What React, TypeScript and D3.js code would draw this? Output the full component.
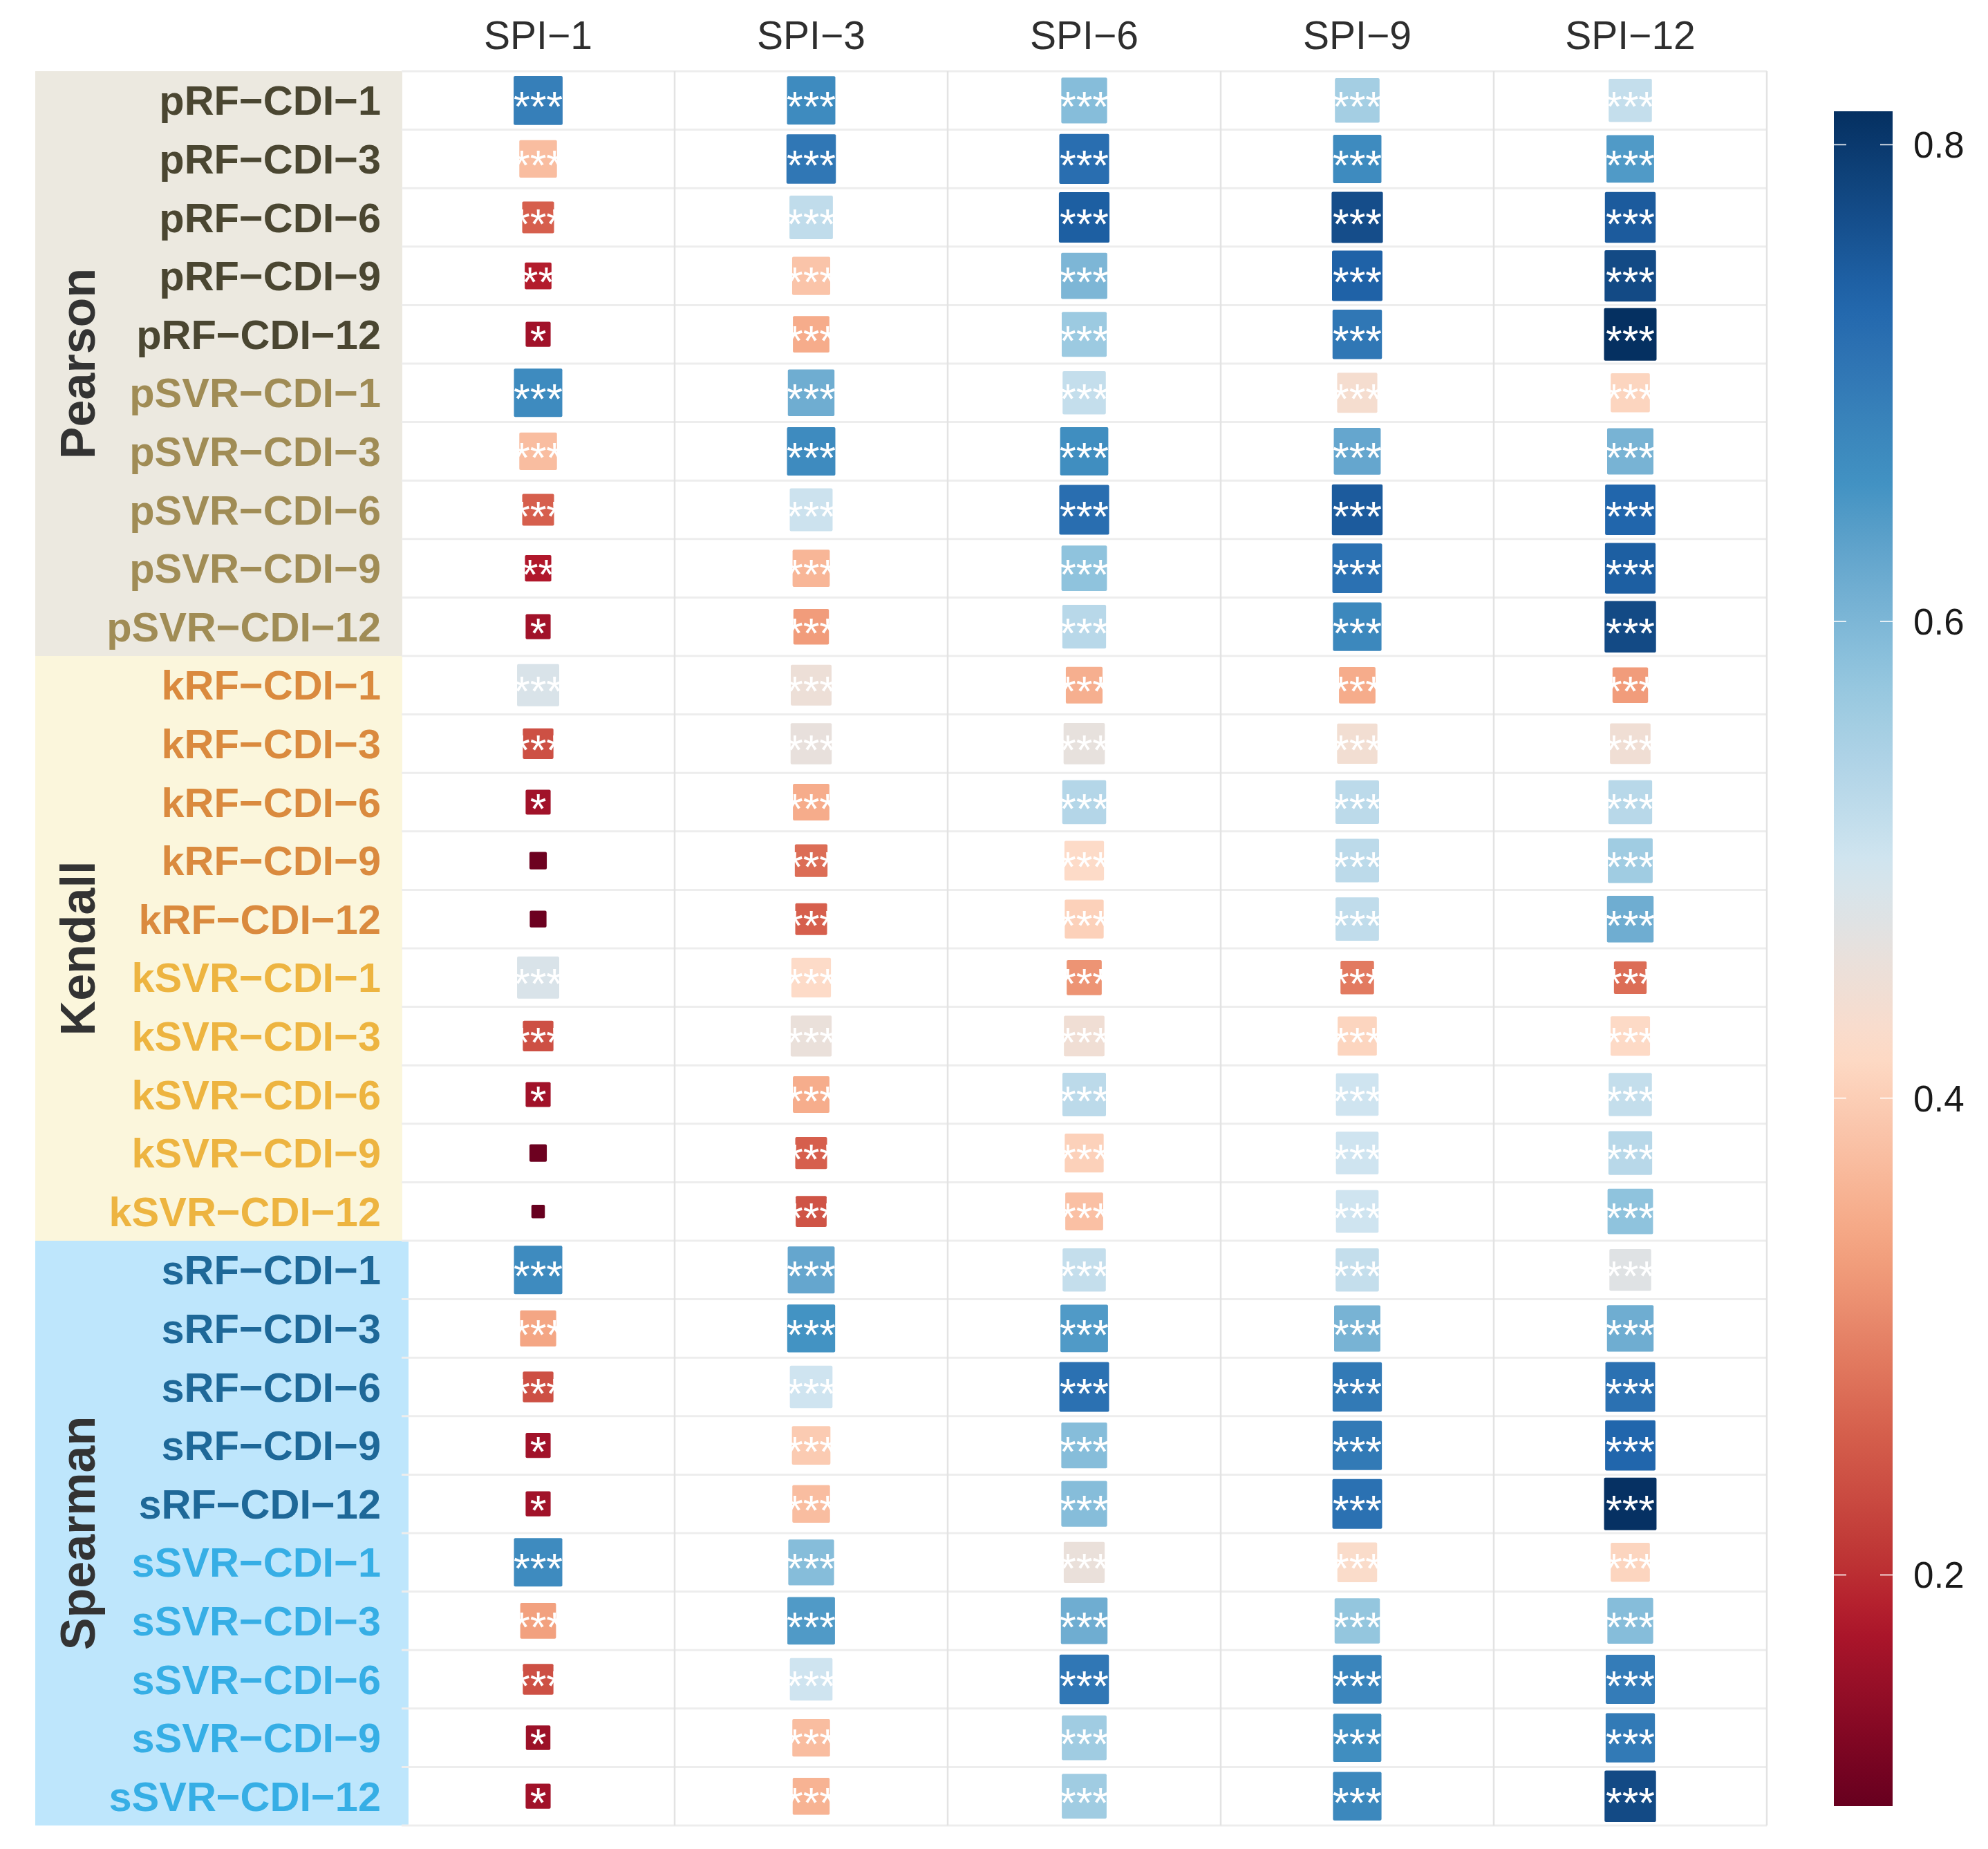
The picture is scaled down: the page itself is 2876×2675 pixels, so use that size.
import * as d3 from 'd3';

const columns = ['SPI\u22121', 'SPI\u22123', 'SPI\u22126', 'SPI\u22129', 'SPI\u221212'];

const groups = ['Pearson', 'Kendall', 'Spearman'];

const rowNames = [
  'pRF\u2212CDI\u22121', 'pRF\u2212CDI\u22123', 'pRF\u2212CDI\u22126', 'pRF\u2212CDI\u22129', 'pRF\u2212CDI\u221212',
  'pSVR\u2212CDI\u22121', 'pSVR\u2212CDI\u22123', 'pSVR\u2212CDI\u22126', 'pSVR\u2212CDI\u22129', 'pSVR\u2212CDI\u221212',
  'kRF\u2212CDI\u22121', 'kRF\u2212CDI\u22123', 'kRF\u2212CDI\u22126', 'kRF\u2212CDI\u22129', 'kRF\u2212CDI\u221212',
  'kSVR\u2212CDI\u22121', 'kSVR\u2212CDI\u22123', 'kSVR\u2212CDI\u22126', 'kSVR\u2212CDI\u22129', 'kSVR\u2212CDI\u221212',
  'sRF\u2212CDI\u22121', 'sRF\u2212CDI\u22123', 'sRF\u2212CDI\u22126', 'sRF\u2212CDI\u22129', 'sRF\u2212CDI\u221212',
  'sSVR\u2212CDI\u22121', 'sSVR\u2212CDI\u22123', 'sSVR\u2212CDI\u22126', 'sSVR\u2212CDI\u22129', 'sSVR\u2212CDI\u221212'
];

// correlation per row (SPI-1, SPI-3, SPI-6, SPI-9, SPI-12)
const values = [
  [0.69, 0.67, 0.59, 0.555, 0.515],
  [0.375, 0.705, 0.72, 0.67, 0.645],
  [0.26, 0.52, 0.745, 0.77, 0.75],
  [0.185, 0.385, 0.6, 0.74, 0.775],
  [0.165, 0.35, 0.565, 0.705, 0.814],
  [0.67, 0.615, 0.515, 0.435, 0.41],
  [0.375, 0.67, 0.665, 0.625, 0.605],
  [0.26, 0.505, 0.72, 0.75, 0.735],
  [0.18, 0.365, 0.58, 0.715, 0.745],
  [0.165, 0.33, 0.53, 0.675, 0.775],
  [0.485, 0.45, 0.355, 0.35, 0.33],
  [0.24, 0.46, 0.462, 0.44, 0.445],
  [0.165, 0.35, 0.535, 0.525, 0.53],
  [0.11, 0.275, 0.42, 0.525, 0.56],
  [0.108, 0.26, 0.405, 0.52, 0.615],
  [0.485, 0.42, 0.32, 0.29, 0.275],
  [0.24, 0.455, 0.445, 0.41, 0.418],
  [0.165, 0.352, 0.525, 0.5, 0.515],
  [0.11, 0.26, 0.405, 0.5, 0.53],
  [0.103, 0.245, 0.38, 0.5, 0.58],
  [0.67, 0.625, 0.515, 0.515, 0.475],
  [0.342, 0.656, 0.645, 0.605, 0.615],
  [0.24, 0.5, 0.715, 0.7, 0.715],
  [0.165, 0.395, 0.59, 0.7, 0.735],
  [0.165, 0.375, 0.59, 0.715, 0.812],
  [0.67, 0.59, 0.455, 0.425, 0.41],
  [0.335, 0.645, 0.615, 0.575, 0.59],
  [0.24, 0.5, 0.705, 0.68, 0.695],
  [0.16, 0.375, 0.56, 0.665, 0.7],
  [0.165, 0.36, 0.56, 0.675, 0.775]
];

const signif = [
  ['***', '***', '***', '***', '***'],
  ['***', '***', '***', '***', '***'],
  ['***', '***', '***', '***', '***'],
  ['**', '***', '***', '***', '***'],
  ['*', '***', '***', '***', '***'],
  ['***', '***', '***', '***', '***'],
  ['***', '***', '***', '***', '***'],
  ['***', '***', '***', '***', '***'],
  ['**', '***', '***', '***', '***'],
  ['*', '***', '***', '***', '***'],
  ['***', '***', '***', '***', '***'],
  ['***', '***', '***', '***', '***'],
  ['*', '***', '***', '***', '***'],
  ['', '***', '***', '***', '***'],
  ['', '***', '***', '***', '***'],
  ['***', '***', '***', '***', '***'],
  ['***', '***', '***', '***', '***'],
  ['*', '***', '***', '***', '***'],
  ['', '***', '***', '***', '***'],
  ['', '***', '***', '***', '***'],
  ['***', '***', '***', '***', '***'],
  ['***', '***', '***', '***', '***'],
  ['***', '***', '***', '***', '***'],
  ['*', '***', '***', '***', '***'],
  ['*', '***', '***', '***', '***'],
  ['***', '***', '***', '***', '***'],
  ['***', '***', '***', '***', '***'],
  ['***', '***', '***', '***', '***'],
  ['*', '***', '***', '***', '***'],
  ['*', '***', '***', '***', '***']
];

const rdbu10 = ['#67001F', '#B2182B', '#D6604D', '#F4A582', '#FDDBC7', '#D1E5F0', '#92C5DE', '#4393C3', '#2166AC', '#053061'];
const bandFills = ['#ECE9E0', '#FBF6DC', '#BEE6FC'];
const labelFills = ['#4A4631', '#A08C55', '#DA8A3E', '#EDB440', '#1E6898', '#36AEE5'];

const W = 2876;
const H = 2675;
const FONT = '"Liberation Sans", Arial, Helvetica, sans-serif';

export default function App() {
  const left = 581;
  const right = 2556;
  const top = 103;
  const bottom = 2641;

  const x = d3.scaleBand().domain(columns).range([left, right]);
  const y = d3.scaleBand().domain(rowNames).range([top, bottom]);

  const flat = values.flat();
  const vmin = d3.min(flat) ?? 0;
  const vmax = d3.max(flat) ?? 1;

  const color = d3
    .scaleLinear<string>()
    .domain(rdbu10.map((_, i) => vmin + ((vmax - vmin) * i) / (rdbu10.length - 1)))
    .range(rdbu10)
    .interpolate(d3.interpolateLab);

  const size = d3.scaleSqrt().domain([0, vmax - vmin]).range([19.5, 76]);

  const cbTop = 161;
  const cbBottom = 2613;
  const cbLeft = 2653;
  const cbWidth = 85;
  const cb = d3.scaleLinear().domain([vmin, vmax]).range([cbBottom, cbTop]);
  const cbTicks = cb.ticks(4);
  const gradStops = d3.range(0, 1.0001, 0.02);

  const cells = [];
  rowNames.forEach((row, i) => {
    columns.forEach((col, j) => {
      const v = values[i][j];
      const s = size(v - vmin);
      const cx = (x(col) ?? 0) + x.bandwidth() / 2;
      const cy = (y(row) ?? 0) + y.bandwidth() / 2;
      cells.push({ key: `${i}-${j}`, v, s, cx, cy, label: signif[i][j] });
    });
  });

  return (
    <div style={{ position: 'absolute', left: 0, top: 0 }}>
      <svg width={W} height={H} style={{ display: 'block', background: '#fff' }}>
        <defs>
          <linearGradient id="cbgrad" x1="0" y1="1" x2="0" y2="0">
            {gradStops.map((t) => (
              <stop key={t} offset={t} stopColor={color(vmin + t * (vmax - vmin))} />
            ))}
          </linearGradient>
        </defs>

        {/* group bands */}
        {groups.map((g, gi) => {
          const y0 = y(rowNames[gi * 10]) ?? 0;
          const y1 = (y(rowNames[gi * 10 + 9]) ?? 0) + y.bandwidth();
          return (
            <g key={g}>
              <rect x={51} y={y0} width={(gi === 2 ? 591 : 582) - 51} height={y1 - y0} fill={bandFills[gi]} />
              <text
                transform={`translate(137, ${(y0 + y1) / 2}) rotate(-90)`}
                textAnchor="middle"
                fontFamily={FONT}
                fontWeight="bold"
                fontSize={70}
                fill="#333333"
              >
                {g}
              </text>
            </g>
          );
        })}

        {/* row labels */}
        {rowNames.map((row, i) => (
          <text
            key={row}
            x={551}
            y={(y(row) ?? 0) + y.bandwidth() / 2 + 21}
            textAnchor="end"
            fontFamily={FONT}
            fontWeight="bold"
            fontSize={59.5}
            fill={labelFills[Math.floor(i / 5)]}
          >
            {row}
          </text>
        ))}

        {/* grid */}
        {d3.range(rowNames.length + 1).map((k) => {
          const yy = top + k * y.step();
          return <line key={`h${k}`} x1={left} x2={right} y1={yy} y2={yy} stroke="#EDEDED" strokeWidth={3} />;
        })}
        {d3.range(columns.length + 1).map((k) => {
          const xx = left + k * x.step();
          return k === 0 ? null : (
            <line key={`v${k}`} x1={xx} x2={xx} y1={top} y2={bottom} stroke="#E3E3E3" strokeWidth={2.5} />
          );
        })}

        {/* column headers */}
        {columns.map((c) => (
          <text
            key={c}
            x={(x(c) ?? 0) + x.bandwidth() / 2}
            y={71}
            textAnchor="middle"
            fontFamily={FONT}
            fontSize={57}
            fill="#2E2E2E"
          >
            {c}
          </text>
        ))}

        {/* squares */}
        {cells.map((c) => (
          <rect
            key={c.key}
            x={c.cx - c.s / 2}
            y={c.cy - c.s / 2}
            width={c.s}
            height={c.s}
            rx={2}
            fill={color(c.v)}
          />
        ))}
        {cells.map((c) =>
          c.label ? (
            <text
              key={`t${c.key}`}
              x={c.cx}
              y={c.cy + 30}
              textAnchor="middle"
              fontFamily={FONT}
              fontSize={61}
              fill="#ffffff"
            >
              {c.label}
            </text>
          ) : null
        )}

        {/* colour bar */}
        <rect x={cbLeft} y={cbTop} width={cbWidth} height={cbBottom - cbTop} fill="url(#cbgrad)" />
        {cbTicks.map((t) => (
          <g key={t}>
            <line x1={cbLeft} x2={cbLeft + 18} y1={cb(t)} y2={cb(t)} stroke="#ffffff" strokeWidth={2} opacity={0.8} />
            <line
              x1={cbLeft + cbWidth - 18}
              x2={cbLeft + cbWidth}
              y1={cb(t)}
              y2={cb(t)}
              stroke="#ffffff"
              strokeWidth={2}
              opacity={0.8}
            />
            <text x={2768} y={cb(t) + 19} fontFamily={FONT} fontSize={53} fill="#1A1A1A">
              {d3.format('.1f')(t)}
            </text>
          </g>
        ))}
      </svg>
    </div>
  );
}
